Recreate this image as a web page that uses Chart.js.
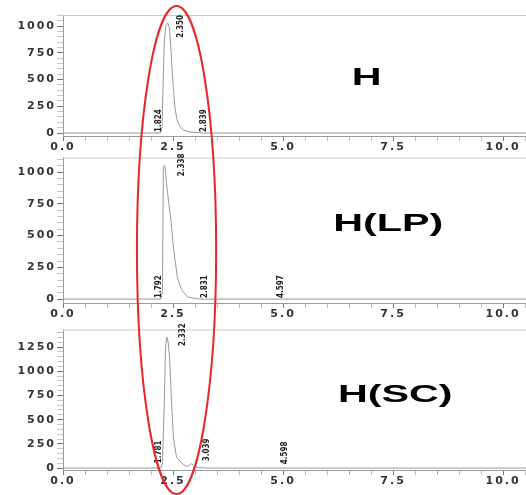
<!DOCTYPE html>
<html>
<head>
<meta charset="utf-8">
<script src="https://cdn.jsdelivr.net/npm/chart.js@4.4.1/dist/chart.umd.min.js"></script>
<style>
  html, body { margin: 0; padding: 0; background: #fff; }
  #wrap { position: relative; width: 526px; height: 495px; overflow: hidden; background: #fff; }
  canvas { position: absolute; left: 0; }
  #overlay { top: 0; pointer-events: none; }
</style>
</head>
<body>
<div id="wrap">
  <canvas id="c1" width="526" height="155" style="top:0px"></canvas>
  <canvas id="c2" width="526" height="172" style="top:150px"></canvas>
  <canvas id="c3" width="526" height="173" style="top:322px"></canvas>
  <canvas id="overlay" width="526" height="495"></canvas>
</div>
<script>
// ---- data (retention time in min, signal) ----
const timeH   = [0, 2.22, 2.25, 2.30, 2.34, 2.38, 2.42, 2.45, 2.48, 2.52, 2.55, 2.60, 2.66, 2.75, 2.89, 3.2, 10.52];
const signalH = [0, 0,    50,   850,  1010, 1028, 980,  800,  580,  350,  215,  110,  56,   25,   9,    0,   0];

const timeLP   = [0, 2.23, 2.26, 2.28, 2.30, 2.32, 2.36, 2.45, 2.52, 2.60, 2.70, 2.84, 3.1, 10.52];
const signalLP = [0, 0,    60,   1030, 1053, 1040, 885,  626,  374,  168,  69,   15,   0,   0];

const timeSC   = [0, 2.22, 2.26, 2.30, 2.33, 2.36, 2.39, 2.42, 2.47, 2.51, 2.58, 2.70, 2.81, 2.87, 2.92, 2.97, 3.05, 3.3, 10.52];
const signalSC = [0, 0,    50,   650,  1250, 1353, 1300, 1150, 650,  310,  110,  50,   15,   30,   45,   25,   5,    0,   0];

const panelTitles = ['H', 'H(LP)', 'H(SC)'];

const peakTextH  = ['1.824', '2.350', '2.839'];
const peakTimeH  = [2.19, 2.68, 3.20];
const peakLevelH = [0, 880, 0];

const peakTextLP  = ['1.792', '2.338', '2.831', '4.597'];
const peakTimeLP  = [2.19, 2.70, 3.23, 4.95];
const peakLevelLP = [0, 960, 0, 0];

const peakTextSC  = ['1.781', '2.332', '3.039', '4.598'];
const peakTimeSC  = [2.18, 2.73, 3.27, 5.05];
const peakLevelSC = [40, 1250, 60, 30];

const xTickLabels = ['0.0', '2.5', '5.0', '7.5', '10.0'];
const xTickValues = [0, 2.5, 5, 7.5, 10];
const yTicksH  = [0, 250, 500, 750, 1000];
const yTicksLP = [0, 250, 500, 750, 1000];
const yTicksSC = [0, 250, 500, 750, 1000, 1250];

// ---- helpers ----
function pts(t, s) { return t.map((v, i) => ({ x: v, y: s[i] })); }

const deco = {
  id: 'panelDeco',
  beforeDraw(chart) { chart.ctx.letterSpacing = '2px'; },
  afterDraw(chart, args, opts) {
    const ctx = chart.ctx, a = chart.chartArea, xs = chart.scales.x, ys = chart.scales.y;
    ctx.save();
    ctx.letterSpacing = '0px';
    // top frame line
    ctx.strokeStyle = '#c8c8c8'; ctx.lineWidth = 1;
    ctx.beginPath(); ctx.moveTo(a.left, a.top + 0.5); ctx.lineTo(a.right, a.top + 0.5); ctx.stroke();
    // peak labels (rotated)
    ctx.fillStyle = '#222';
    ctx.font = 'bold 8px "Liberation Sans Narrow", "DejaVu Sans Condensed", sans-serif';
    ctx.textAlign = 'left'; ctx.textBaseline = 'middle';
    opts.text.forEach((txt, i) => {
      const px = xs.getPixelForValue(opts.time[i]);
      const py = ys.getPixelForValue(opts.level[i]);
      ctx.save(); ctx.translate(px, py - 1); ctx.rotate(-Math.PI / 2);
      ctx.fillText(txt, 0, 0); ctx.restore();
    });
    // panel title
    const tx = xs.getPixelForValue(opts.titleX), ty = ys.getPixelForValue(opts.titleY);
    ctx.save(); ctx.translate(tx, ty); ctx.scale(1.72, 1);
    ctx.fillStyle = '#000'; ctx.font = 'bold 24px "Liberation Sans", Arial, sans-serif';
    ctx.textAlign = 'center'; ctx.textBaseline = 'middle';
    ctx.fillText(opts.title, 0, 0);
    ctx.restore();
    ctx.restore();
    ctx.letterSpacing = '0px';
  }
};

function makeChart(id, time, signal, yMin, yMax, yTicks, padTop, xHeight, peaks, title, titleX, titleY) {
  const tickFont = { family: 'DejaVu Sans', weight: 'bold', size: 11 };
  return new Chart(document.getElementById(id), {
    type: 'line',
    data: { datasets: [{ data: pts(time, signal), borderColor: '#999999', borderWidth: 1, pointRadius: 0, tension: 0, fill: false }] },
    options: {
      responsive: false, animation: false, devicePixelRatio: 1,
      layout: { padding: { top: padTop, left: 0, right: 0, bottom: 0 } },
      plugins: {
        legend: { display: false }, tooltip: { enabled: false },
        panelDeco: { text: peaks.text, time: peaks.time, level: peaks.level, title, titleX, titleY }
      },
      scales: {
        x: {
          type: 'linear', min: 0, max: 10.52,
          afterFit: s => { s.height = xHeight; },
          afterBuildTicks: s => {
            const arr = [];
            for (let k = 0; k <= 21; k++) arr.push({ value: k * 0.5 });
            s.ticks = arr;
          },
          grid: { drawOnChartArea: false, drawTicks: true, tickLength: 5,
                  tickColor: c => (c.tick && xTickValues.includes(c.tick.value)) ? '#777' : '#bdbdbd' },
          border: { display: true, color: '#9a9a9a', width: 1 },
          ticks: { autoSkip: false, maxRotation: 0, minRotation: 0, padding: 0, color: '#333', font: tickFont,
                   callback: v => { const i = xTickValues.indexOf(v); return i >= 0 ? xTickLabels[i] : ''; } }
        },
        y: {
          type: 'linear', min: yMin, max: yMax,
          afterFit: s => { s.width = 63; },
          afterBuildTicks: s => {
            const arr = [];
            for (let v = 0; v <= yMax; v += 50) arr.push({ value: v });
            s.ticks = arr;
          },
          grid: { drawOnChartArea: false, drawTicks: true, tickLength: 6,
                  tickColor: c => (c.tick && yTicks.includes(c.tick.value)) ? '#777' : '#c4c4c4' },
          border: { display: true, color: '#9a9a9a', width: 1 },
          ticks: { autoSkip: false, padding: 1, color: '#333', font: tickFont,
                   callback: v => yTicks.includes(v) ? String(v) : '' }
        }
      }
    },
    plugins: [deco]
  });
}

const ch1 = makeChart('c1', timeH, signalH, -28, 1103, yTicksH, 15, 19,
  { text: peakTextH, time: peakTimeH, level: peakLevelH }, panelTitles[0], 6.9, 514);
const ch2 = makeChart('c2', timeLP, signalLP, -31, 1115, yTicksLP, 3, 19,
  { text: peakTextLP, time: peakTimeLP, level: peakLevelLP }, panelTitles[1], 7.39, 588);
const ch3 = makeChart('c3', timeSC, signalSC, -20, 1430, yTicksSC, 3, 25,
  { text: peakTextSC, time: peakTimeSC, level: peakLevelSC }, panelTitles[2], 7.55, 750);

// red highlight ellipse around the main peaks
(function () {
  const o = document.getElementById('overlay').getContext('2d');
  const xs = ch1.scales.x;
  const cx = xs.getPixelForValue(2.58);
  const rx = xs.getPixelForValue(2.58 + 0.9) - cx;
  o.strokeStyle = '#e8262a'; o.lineWidth = 2;
  o.beginPath(); o.ellipse(cx, 250, rx, 244, 0, 0, Math.PI * 2); o.stroke();
})();
</script>
</body>
</html>
